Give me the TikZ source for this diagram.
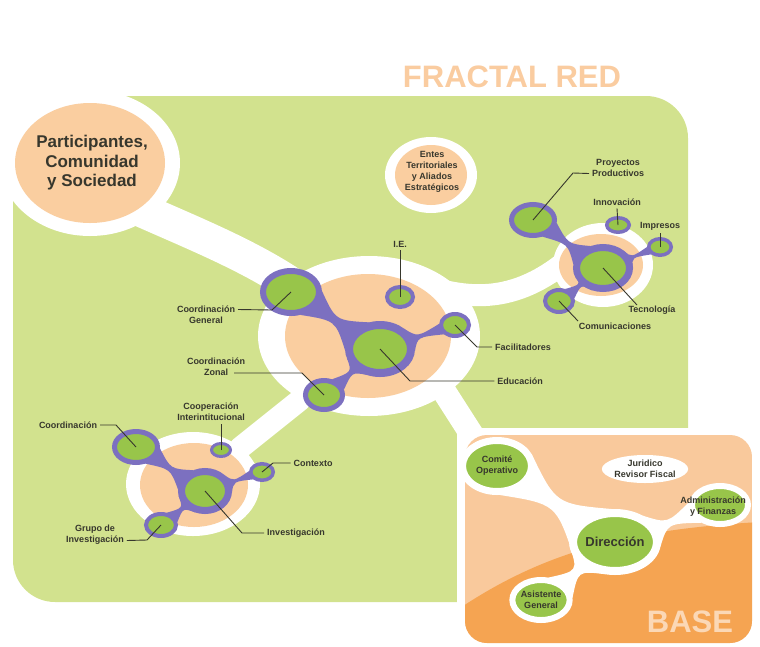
\documentclass[tikz,border=0pt]{standalone}
\usepackage{fontspec}
\setmainfont{Liberation Sans}
\usetikzlibrary{shapes.geometric,calc}

\definecolor{lgreen}{RGB}{210,226,142}
\definecolor{peach}{RGB}{250,206,160}
\definecolor{purp}{RGB}{124,112,192}
\definecolor{ngreen}{RGB}{152,197,74}
\definecolor{baseup}{RGB}{249,201,156}
\definecolor{basedn}{RGB}{245,164,82}
\definecolor{ttlcol}{RGB}{250,204,160}
\definecolor{basetxt}{RGB}{251,216,182}
\definecolor{txt}{RGB}{55,55,45}

\pgfdeclarelayer{field}
\pgfdeclarelayer{links}
\pgfsetlayers{field,links,main}

% waisted link between two bubbles: [colour]{from}{to}{angle}{spread}
\newcommand{\blink}[5][purp]{%
  \pgfmathtruncatemacro\aL{#4+#5}\pgfmathtruncatemacro\aR{#4-#5}%
  \pgfmathtruncatemacro\bL{#4+180-#5}\pgfmathtruncatemacro\bR{#4+180+#5}%
  \fill[#1] (#2 n.\aL) .. controls ($(#2)!0.5!(#3)$) .. (#3 n.\bL)
     -- (#3 n.\bR) .. controls ($(#2)!0.5!(#3)$) .. (#2 n.\aR) -- cycle;}

\begin{document}
\begin{tikzpicture}[x=1pt,y=-1pt,
  txtf/.style={font=\bfseries\fontsize{9}{11}\selectfont,text=txt,align=center},
  lbl/.style={txtf,inner sep=0pt,outer sep=3pt},
  bub/.style={ellipse,draw=purp,fill=ngreen,inner sep=0pt},
  wbub/.style={ellipse,draw=white,fill=ngreen,inner sep=0pt,txtf},
  gap/.style={draw=white,line cap=round},
  lead/.style={draw=txt,line width=0.9pt}]

\useasboundingbox (0,0) rectangle (760,646);

% green field with white channels
\begin{pgfonlayer}{field}
\fill[lgreen,rounded corners=42pt] (13,96) rectangle (688,602);
\fill[white] (0,0) rectangle (90,163);
\fill[white] (90,163) ellipse [x radius=90,y radius=73];
\fill[white] (457,428) rectangle (760,646);
\draw[gap,line width=34pt] (130,205) .. controls (190,232) and (250,255) .. (300,290);
\draw[gap,line width=22pt] (440,290) .. controls (480,300) and (520,298) .. (565,262);
\draw[gap,line width=22pt] (300,400) -- (240,448);
\draw[gap,line width=24pt] (440,385) -- (472,435);
\fill[white] (369,336) ellipse [x radius=111,y radius=80];
\fill[white] (603,265) ellipse [x radius=50,y radius=42];
\fill[white] (193,484) ellipse [x radius=67,y radius=52];
\fill[white] (431,175) ellipse [x radius=46,y radius=38];

\fill[peach] (90,163) ellipse [x radius=75,y radius=60];
\fill[peach] (431,175) ellipse [x radius=36,y radius=30];
\fill[peach] (368,336) ellipse [x radius=83,y radius=62];
\fill[peach] (601,265) ellipse [x radius=42,y radius=31];
\fill[peach] (194,485) ellipse [x radius=54,y radius=42];

% BASE
\begin{scope}
\clip[rounded corners=22pt] (465,435) rectangle (752,643);
\fill[baseup] (465,435) rectangle (752,643);
\fill[basedn] (460,608) .. controls (540,555) and (620,530) .. (760,522) -- (760,650) -- (460,650) -- cycle;
\end{scope}
\end{pgfonlayer}

\node[font=\bfseries\fontsize{31}{31}\selectfont,text=ttlcol] (ttl) at (512,77) {FRACTAL RED};
\node[font=\bfseries\fontsize{31}{31}\selectfont,text=basetxt] (bas) at (690,622) {BASE};
\node[font=\bfseries\fontsize{17}{19.5}\selectfont,text=txt,align=center] (part) at (92,163)
  {Participantes,\\Comunidad\\y Sociedad};
\node[txtf] (entes) at (432,172) {Entes\\Territoriales\\y Aliados\\Estratégicos};

% central cluster
\coordinate (edu) at (380,349);
\coordinate (cgen) at (291,292);
\coordinate (ie) at (400,297);
\coordinate (fac) at (455,325);
\coordinate (czon) at (324,395);
\node[bub,line width=8pt,minimum width=62pt,minimum height=48pt] (edu n) at (edu) {};
\node[bub,line width=6pt,minimum width=56pt,minimum height=42pt] (cgen n) at (cgen) {};
\node[bub,line width=4pt,minimum width=26pt,minimum height=20pt] (ie n) at (ie) {};
\node[bub,line width=4pt,minimum width=28pt,minimum height=22pt] (fac n) at (fac) {};
\node[bub,line width=5pt,minimum width=37pt,minimum height=29pt] (czon n) at (czon) {};

% right cluster
\coordinate (tec) at (603,268);
\coordinate (proy) at (533,220);
\coordinate (innov) at (618,225);
\coordinate (impr) at (660,247);
\coordinate (comu) at (559,301);
\node[bub,line width=7pt,minimum width=53pt,minimum height=41pt] (tec n) at (tec) {};
\node[bub,line width=5pt,minimum width=43pt,minimum height=31pt] (proy n) at (proy) {};
\node[bub,line width=3.5pt,minimum width=22.5pt,minimum height=14.5pt] (innov n) at (innov) {};
\node[bub,line width=3.5pt,minimum width=22.5pt,minimum height=16.5pt] (impr n) at (impr) {};
\node[bub,line width=4pt,minimum width=28pt,minimum height=22pt] (comu n) at (comu) {};

% lower cluster
\coordinate (inv) at (205,491);
\coordinate (coord) at (136,447);
\coordinate (coop) at (221,450);
\coordinate (ctx) at (262,472);
\coordinate (grupo) at (161,525);
\node[bub,line width=7pt,minimum width=47pt,minimum height=39pt] (inv n) at (inv) {};
\node[bub,line width=5pt,minimum width=43pt,minimum height=31pt] (coord n) at (coord) {};
\node[bub,line width=3pt,minimum width=19pt,minimum height=13pt] (coop n) at (coop) {};
\node[bub,line width=3.5pt,minimum width=22.5pt,minimum height=16.5pt] (ctx n) at (ctx) {};
\node[bub,line width=4pt,minimum width=30pt,minimum height=22pt] (grupo n) at (grupo) {};

% BASE bubbles
\coordinate (com) at (497,466);
\coordinate (dir) at (615,542);
\coordinate (adm) at (720,505);
\coordinate (asi) at (541,600);
\node[wbub,line width=7pt,minimum width=69pt,minimum height=51pt] (com n) at (com) {Comité\\Operativo};
\node[wbub,line width=8pt,minimum width=82pt,minimum height=58pt,font=\bfseries\fontsize{13}{13}\selectfont] (dir n) at (dir) {Dirección};
\node[wbub,line width=6pt,minimum width=56pt,minimum height=38pt] (adm n) at (adm) {};
\node[txtf] (admL) at (713,507) {Administración\\y Finanzas};
\node[wbub,line width=6pt,minimum width=54pt,minimum height=40pt] (asi n) at (asi) {Asistente\\General};
\node[ellipse,fill=white,inner sep=0pt,minimum width=60pt,minimum height=28pt,txtf] (jur) at (645,469) {Juridico\\Revisor Fiscal};

\begin{pgfonlayer}{links}
\blink{edu}{cgen}{147}{35}
\blink{edu}{fac}{18}{22}
\blink{edu}{czon}{219}{24}
\blink{tec}{proy}{146}{27}
\blink{tec}{impr}{20}{20}
\blink{tec}{comu}{217}{26}
\blink{inv}{coord}{148}{29}
\blink{inv}{ctx}{18}{22}
\blink{inv}{grupo}{218}{27}
\blink[white]{com}{dir}{-33}{52}
\blink[white]{dir}{adm}{19}{25}
\blink[white]{dir}{asi}{218}{34}
\end{pgfonlayer}

% labels
\node[lbl] (cgenL) at (206,315) {Coordinación\\General};
\node[lbl] (czonL) at (216,367) {Coordinación\\Zonal};
\node[lbl] (ieL) at (400,244) {I.E.};
\node[lbl] (facL) at (523,347) {Facilitadores};
\node[lbl] (eduL) at (520,381) {Educación};
\node[lbl] (proyL) at (618,168) {Proyectos\\Productivos};
\node[lbl] (innovL) at (617,202) {Innovación};
\node[lbl] (imprL) at (660,226) {Impresos};
\node[lbl] (tecL) at (652,310) {Tecnología};
\node[lbl] (comuL) at (615,326) {Comunicaciones};
\node[lbl] (coordL) at (68,425) {Coordinación};
\node[lbl] (coopL) at (211,412) {Cooperación\\Interintitucional};
\node[lbl] (ctxL) at (313,463) {Contexto};
\node[lbl] (grupoL) at (95,535) {Grupo de\\Investigación};
\node[lbl] (invL) at (296,533) {Investigación};
\coordinate (czonE) at (234,373);
\coordinate (tecE) at (637,305);
\coordinate (comuE) at (578,321);

\draw[lead] (cgen) -- ++(-19,18) -- ([yshift=5.5pt]cgenL.east);
\draw[lead] (czon) -- ++(-22,-22) -- (czonE);
\draw[lead] (ie) -- (ieL.south);
\draw[lead] (fac) -- ++(22,22) -- (facL.west);
\draw[lead] (edu) -- ++(30,32) -- (eduL.west);
\draw[lead] (proy) -- ++(40,-47) -- ([yshift=-5.5pt]proyL.west);
\draw[lead] (innov) -- (innovL.south);
\draw[lead] (impr) -- (imprL.south);
\draw[lead] (tec) -- (tecE);
\draw[lead] (comu) -- (comuE);
\draw[lead] (coord) -- ++(-20,-22) -- (coordL.east);
\draw[lead] (coop) -- (coop |- coopL.south);
\draw[lead] (ctx) -- ++(11,-9) -- (ctxL.west);
\draw[lead] (grupo) -- ++(-14,15) -- ([yshift=-5.5pt]grupoL.east);
\draw[lead] (inv) -- ++(37,42) -- (invL.west);
\end{tikzpicture}
\end{document}
